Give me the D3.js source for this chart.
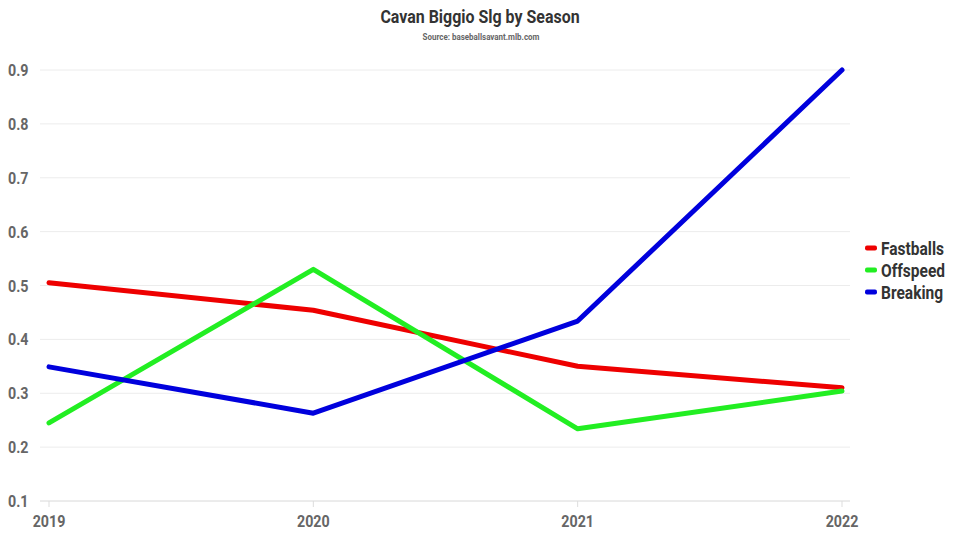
<!DOCTYPE html>
<html><head><meta charset="utf-8">
<script src="https://cdn.jsdelivr.net/npm/d3@7"></script>
<style>body{margin:0;background:#fff}text{font-family:Roboto,"Noto Sans",sans-serif;font-weight:700}</style>
</head><body><svg id="c" width="960" height="540"></svg>
<script>
const seasons = ["2019","2020","2021","2022"];
const fastballs = [0.505, 0.454, 0.350, 0.310];
const offspeed = [0.245, 0.530, 0.234, 0.304];
const breaking = [0.349, 0.263, 0.434, 0.900];
const seriesNames = ["Fastballs","Offspeed","Breaking"];
const seriesColors = ["#ee0000","#22ee22","#0000dd"];
const yTicks = [0.1,0.2,0.3,0.4,0.5,0.6,0.7,0.8,0.9];

const svg = d3.select("#c");
const SX = 0.84;
const x = d3.scalePoint().domain(seasons).range([49, 842]);
const y = d3.scaleLinear().domain([0.1, 0.9]).range([501, 70]);

function ctext(g, tx, ty, str, size, color, anchor) {
  return g.append("text").attr("transform", `translate(${tx},${ty}) scale(${SX},1)`)
    .attr("text-anchor", anchor).attr("font-size", size).attr("fill", color).text(str);
}

// grid
const gg = svg.append("g");
gg.selectAll("line").data(yTicks).join("line")
  .attr("x1", 40).attr("x2", 850)
  .attr("y1", d => y(d)).attr("y2", d => y(d))
  .attr("stroke", d => d === 0.1 ? "#d8d8d8" : "#ececec").attr("stroke-width", 1);
yTicks.forEach(t => ctext(svg, 8, y(t) + 6, d3.format(".1f")(t), 17, "#666", "start"));

// x ticks
seasons.forEach(s => {
  svg.append("line").attr("x1", x(s)).attr("x2", x(s)).attr("y1", 501).attr("y2", 507).attr("stroke", "#ddd");
  ctext(svg, x(s), 527, s, 17, "#666", "middle");
});

// lines
const data = [fastballs, offspeed, breaking];
const line = d3.line().x((d, i) => x(seasons[i])).y(d => y(d));
data.forEach((vals, k) => {
  svg.append("path").attr("d", line(vals)).attr("fill", "none")
    .attr("stroke", seriesColors[k]).attr("stroke-width", 5)
    .attr("stroke-linecap", "round").attr("stroke-linejoin", "round");
});

// title
ctext(svg, 480, 23, "Cavan Biggio Slg by Season", 19, "#333", "middle");
ctext(svg, 481, 40, "Source: baseballsavant.mlb.com", 9.5, "#666", "middle");

// legend
seriesNames.forEach((n, k) => {
  const cy = 248 + k * 22;
  svg.append("rect").attr("x", 865).attr("y", cy - 2.5).attr("width", 12).attr("height", 5).attr("rx", 2)
    .attr("fill", seriesColors[k]);
  ctext(svg, 881, cy + 6.5, n, 18.5, "#333", "start");
});
</script></body></html>
